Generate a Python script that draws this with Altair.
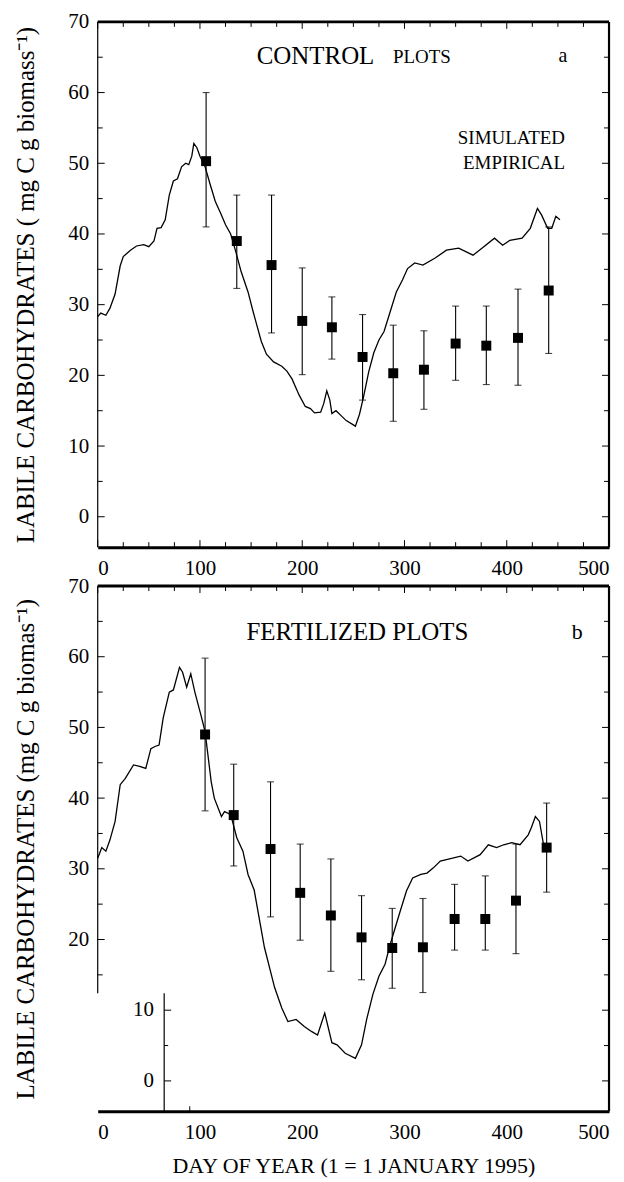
import altair as alt
import pandas as pd

# ---------------- data: panel a (control plots) ----------------
sim_a_day = [0, 3, 8, 12, 17, 22, 25, 32, 38, 45, 50, 55, 58, 62, 66, 70, 74, 78, 82, 86, 89,
             92, 94, 97, 100, 105, 110, 115, 120, 125, 130, 135, 140, 147, 152, 160, 165, 172,
             180, 185, 190, 197, 203, 208, 212, 218, 221, 224, 227, 229, 233, 238, 243, 250,
             252, 256, 260, 265, 270, 275, 280, 286, 292, 298, 303, 310, 318, 330, 341, 353,
             367, 376, 388, 396, 403, 415, 423, 430, 434, 440, 444, 448, 452]
sim_a_val = [28.3, 28.8, 28.5, 29.5, 31.5, 35.5, 36.8, 37.7, 38.3, 38.5, 38.2, 39.0, 40.8,
             40.9, 42.0, 45.5, 47.5, 47.8, 49.5, 50.0, 49.8, 51.0, 52.8, 52.2, 51.0, 49.5,
             47.0, 44.6, 43.0, 41.3, 40.0, 37.5, 34.8, 31.8, 29.0, 24.8, 23.0, 21.9, 21.3,
             20.6, 19.5, 17.2, 15.6, 15.3, 14.7, 14.8, 16.0, 17.8, 16.5, 14.6, 15.0, 14.3,
             13.6, 13.0, 12.8, 14.5, 17.0, 20.5, 23.2, 25.0, 26.2, 29.0, 31.8, 33.5, 35.1,
             35.9, 35.6, 36.6, 37.7, 38.0, 37.0, 38.0, 39.4, 38.4, 39.1, 39.4, 40.8, 43.6,
             42.7, 40.8, 40.8, 42.5, 42.0]
emp_a_day = [106, 136, 170, 200, 229, 259, 289, 319, 350, 380, 411, 441]
emp_a_val = [50.3, 39.0, 35.6, 27.7, 26.8, 22.6, 20.3, 20.8, 24.5, 24.2, 25.3, 32.0]
emp_a_lo = [41.0, 32.3, 26.0, 20.1, 22.3, 16.5, 13.5, 15.2, 19.3, 18.7, 18.6, 23.1]
emp_a_hi = [60.0, 45.5, 45.5, 35.2, 31.1, 28.6, 27.1, 26.3, 29.8, 29.8, 32.2, 41.0]

# ---------------- data: panel b (fertilized plots) ----------------
sim_b_day = [0, 4, 8, 12, 17, 22, 27, 35, 41, 47, 52, 56, 60, 64, 70, 74, 80, 83, 87, 91,
             95, 101, 105, 111, 114, 121, 124, 130, 136, 142, 147, 153, 163, 173, 180, 186,
             194, 202, 209, 215, 222, 229, 234, 242, 252, 258, 263, 269, 275, 281, 286, 292,
             296, 302, 308, 316, 322, 328, 335, 347, 355, 362, 374, 382, 390, 397, 405, 413,
             421, 424, 428, 432, 436, 440]
sim_b_val = [31.5, 33.0, 32.5, 34.1, 36.7, 41.9, 42.8, 44.7, 44.5, 44.2, 47.0, 47.3, 47.5,
             51.3, 55.0, 55.3, 58.5, 57.8, 55.7, 57.6, 55.0, 51.7, 49.4, 42.3, 40.0, 37.4,
             38.1, 37.7, 34.4, 32.5, 29.2, 27.0, 18.9, 13.2, 10.3, 8.4, 8.7, 7.7, 7.0, 6.5,
             9.6, 5.4, 5.1, 3.9, 3.2, 5.1, 8.7, 12.2, 14.8, 16.5, 19.3, 22.2, 24.1, 26.9,
             28.7, 29.2, 29.4, 30.1, 31.1, 31.5, 31.8, 31.1, 32.0, 33.4, 33.0, 33.4, 33.7,
             33.4, 34.8, 35.8, 37.4, 36.7, 33.4, 32.7]
emp_b_day = [105, 133, 169, 198, 228, 258, 288, 318, 349, 379, 409, 439]
emp_b_val = [49.0, 37.6, 32.8, 26.6, 23.4, 20.3, 18.8, 18.9, 22.9, 22.9, 25.5, 33.0]
emp_b_lo = [38.2, 30.4, 23.2, 19.9, 15.5, 14.3, 13.1, 12.5, 18.5, 18.5, 18.0, 26.7]
emp_b_hi = [59.8, 44.8, 42.3, 33.5, 31.4, 26.2, 24.4, 25.8, 27.8, 29.0, 33.5, 39.3]

x_labels = [0, 100, 200, 300, 400, 500]
y_labels = [0, 10, 20, 30, 40, 50, 60, 70]
y_labels_b = [20, 30, 40, 50, 60, 70]
inset_labels = [0, 10]

# ---------------- layout constants ----------------
FONT = "Liberation Serif"
XMIN, XMAX = 0, 500
YMIN, YMAX = -4.3, 70
W, H = 513, 527
PX_X = (XMAX - XMIN) / W      # data units per pixel (x)
PX_Y = (YMAX - YMIN) / H      # data units per pixel (y)

xs = alt.Scale(domain=[XMIN, XMAX], nice=False, zero=False)
ys = alt.Scale(domain=[YMIN, YMAX], nice=False, zero=False)


def frame_table(panel):
    """Border lines and inward tick marks of a panel."""
    rows = []
    if panel == "a":
        rows.append(dict(x=XMIN, x2=XMIN, y=YMIN, y2=YMAX, w=1.2))
    else:
        rows.append(dict(x=XMIN, x2=XMIN, y=12.4, y2=YMAX, w=1.2))
        rows.append(dict(x=65, x2=65, y=YMIN, y2=12.4, w=1.2))
        for v in [0, 10]:
            rows.append(dict(x=65, x2=65 + 7 * PX_X, y=v, y2=v, w=1))
        rows.append(dict(x=65, x2=65 + 4 * PX_X, y=5, y2=5, w=1))
        rows.append(dict(x=90, x2=90, y=YMIN, y2=YMIN + 5 * PX_Y, w=1))
    rows.append(dict(x=XMIN, x2=XMAX, y=YMAX, y2=YMAX, w=3))   # top
    rows.append(dict(x=XMAX, x2=XMAX, y=YMIN, y2=YMAX, w=2.2))  # right
    # top ticks (inward)
    for v in range(0, 501, 25):
        ln = 7 if v % 100 == 0 else 5
        rows.append(dict(x=v, x2=v, y=YMAX, y2=YMAX - ln * PX_Y, w=1))
        if panel == "a":
            rows.append(dict(x=v, x2=v, y=YMIN, y2=YMIN + ln * PX_Y, w=1))
    # left / right ticks (inward)
    for v in range(0, 71, 5):
        ln = 7 if v % 10 == 0 else 5
        if panel == "a" or v >= 15:
            rows.append(dict(x=XMIN, x2=XMIN + ln * PX_X, y=v, y2=v, w=1))
        rows.append(dict(x=XMAX - ln * PX_X, x2=XMAX, y=v, y2=v, w=1))
    return pd.DataFrame(rows)


def panel(panel_id, sim_day, sim_val, e_day, e_val, e_lo, e_hi, ytitle, texts, xtitle):
    yvals = y_labels if panel_id == "a" else y_labels_b
    xaxis = alt.Axis(values=x_labels, ticks=False, domain=True, domainWidth=3,
                     domainColor="black", labelPadding=10, grid=False,
                     labelFont=FONT, labelFontSize=21, labelColor="black",
                     title=xtitle if xtitle else None, titlePadding=13,
                     titleFontSize=22, titleFont=FONT, titleFontWeight="normal",
                     titleColor="black")
    yaxis = alt.Axis(values=yvals, ticks=False, domain=False, labelPadding=9, grid=False,
                     labelFont=FONT, labelFontSize=21, labelColor="black",
                     title=ytitle, titlePadding=29, titleFontSize=25, titleFont=FONT,
                     titleFontWeight="normal", titleColor="black")

    def X(f):
        return alt.X(f, type="quantitative", scale=xs, axis=xaxis)

    def Y(f):
        return alt.Y(f, type="quantitative", scale=ys, axis=yaxis)

    fr = alt.Chart(frame_table(panel_id)).mark_rule(color="black").encode(
        x=X("x"), x2="x2", y=Y("y"), y2="y2",
        strokeWidth=alt.StrokeWidth("w:Q", scale=None))

    sim = pd.DataFrame({"day": sim_day, "val": sim_val})
    line = alt.Chart(sim).mark_line(color="black", strokeWidth=1.3).encode(
        x=X("day"), y=Y("val"))

    emp = pd.DataFrame({"day": e_day, "val": e_val, "lo": e_lo, "hi": e_hi})
    bars = alt.Chart(emp).mark_rule(color="black", strokeWidth=1.1).encode(
        x=X("day"), y=Y("lo"), y2="hi")
    cap_lo = alt.Chart(emp).mark_tick(color="black", orient="horizontal", size=7,
                                      thickness=1.1).encode(x=X("day"), y=Y("lo"))
    cap_hi = alt.Chart(emp).mark_tick(color="black", orient="horizontal", size=7,
                                      thickness=1.1).encode(x=X("day"), y=Y("hi"))
    pts = alt.Chart(emp).mark_square(color="black", size=100, opacity=1).encode(
        x=X("day"), y=Y("val"))

    layers = [fr, line, bars, cap_lo, cap_hi, pts]
    for t in texts:
        df = pd.DataFrame({"x": [t["x"]], "y": [t["y"]], "t": [t["t"]]})
        layers.append(alt.Chart(df).mark_text(
            font=t.get("font", FONT), fontSize=t["size"], align=t.get("align", "center"),
            baseline="middle", color="black").encode(x=X("x"), y=Y("y"), text="t:N"))
    if panel_id == "b":
        inset = pd.DataFrame({"x": [55, 55], "y": inset_labels,
                              "t": [str(v) for v in inset_labels]})
        layers.append(alt.Chart(inset).mark_text(
            font=FONT, fontSize=21, align="right", baseline="middle", color="black").encode(
            x=X("x"), y=Y("y"), text="t:N"))
    return alt.layer(*layers).properties(width=W, height=H)


texts_a = [
    dict(x=213, y=65.2, t="CONTROL", size=25),
    dict(x=317, y=65.0, t="PLOTS", size=19),
    dict(x=455, y=65.2, t="a", size=20),
    dict(x=457, y=53.6, t="SIMULATED", size=19, align="right"),
    dict(x=457, y=50.0, t="EMPIRICAL", size=19, align="right"),
]
texts_b = [
    dict(x=254, y=63.5, t="FERTILIZED PLOTS", size=25),
    dict(x=469, y=63.5, t="b", size=22),
]

top = panel("a", sim_a_day, sim_a_val, emp_a_day, emp_a_val, emp_a_lo, emp_a_hi,
            "LABILE CARBOHYDRATES ( mg C g biomass\u207b\u00b9)", texts_a, None)
bottom = panel("b", sim_b_day, sim_b_val, emp_b_day, emp_b_val, emp_b_lo, emp_b_hi,
               "LABILE CARBOHYDRATES (mg C g biomas\u207b\u00b9)", texts_b,
               "DAY OF YEAR (1 = 1 JANUARY 1995)")

chart = alt.vconcat(top, bottom, spacing=39, bounds="flush").properties(
    background="white",
    padding={"left": 5, "top": 1, "right": 5, "bottom": 0},
).configure_view(stroke=None)

chart.save("out.html", embed_options={"renderer": "svg", "actions": False})
